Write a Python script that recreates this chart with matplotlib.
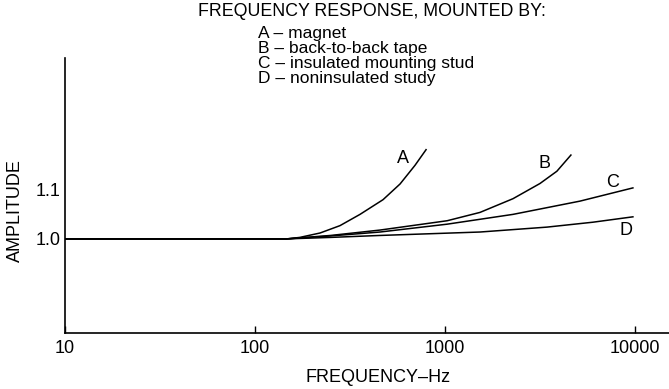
import matplotlib.pyplot as plt

plt.rcParams['font.family'] = ['Liberation Sans', 'DejaVu Sans']

# curve data (frequency in Hz, amplitude)
freq_a = [10, 147, 172, 220, 280, 357, 472, 580, 695, 795]
amp_a = [1.0, 1.0, 1.003, 1.012, 1.027, 1.05, 1.08, 1.112, 1.15, 1.182]

freq_b = [10, 147, 250, 455, 1026, 1528, 2280, 3162, 3880, 4600]
amp_b = [1.0, 1.0, 1.007, 1.018, 1.037, 1.054, 1.082, 1.113, 1.138, 1.171]

freq_c = [10, 147, 250, 455, 1026, 2280, 5130, 9750]
amp_c = [1.0, 1.0, 1.006, 1.014, 1.03, 1.05, 1.077, 1.104]

freq_d = [10, 147, 250, 455, 1528, 3440, 6000, 9750]
amp_d = [1.0, 1.0, 1.003, 1.007, 1.014, 1.024, 1.034, 1.045]

curves = [("A", freq_a, amp_a), ("B", freq_b, amp_b),
          ("C", freq_c, amp_c), ("D", freq_d, amp_d)]
label_pos = {"A": (600, 1.163), "B": (3320, 1.153), "C": (7650, 1.114), "D": (8980, 1.018)}

x_ticks = [10, 100, 1000, 10000]
y_ticks = [1.0, 1.1]

legend_lines = ["A \u2013 magnet", "B \u2013 back-to-back tape",
                "C \u2013 insulated mounting stud", "D \u2013 noninsulated study"]

fs = 13

fig = plt.figure(figsize=(6.69, 3.89), dpi=100)
ax = fig.add_axes([65 / 669, 56 / 389, 1 - 65 / 669, 275 / 389])

for name, f, a in curves:
    ax.plot(f, a, color='black', lw=1.1)
    ax.text(label_pos[name][0], label_pos[name][1], name, fontsize=fs,
            ha='center', va='center')

ax.set_xscale('log')
ax.set_xlim(10, 15100)
ax.set_ylim(0.808, 1.369)

ax.set_xticks(x_ticks)
ax.set_xticklabels([str(t) for t in x_ticks])
ax.minorticks_off()
ax.tick_params(axis='x', direction='in', length=5, width=1, labelsize=fs, pad=5)
ax.set_yticks(y_ticks)
ax.set_yticklabels(["1.0", "1.1"])
ax.tick_params(axis='y', length=0, labelsize=fs, pad=3)

for s in ['top', 'right']:
    ax.spines[s].set_visible(False)
for s in ['left', 'bottom']:
    ax.spines[s].set_linewidth(1.2)

fig.text(378 / 669, 1 - 377 / 389, "FREQUENCY\u2013Hz", fontsize=fs,
         ha='center', va='center')
fig.text(15 / 669, 1 - 211 / 389, "AMPLITUDE", fontsize=fs, rotation=90,
         ha='center', va='center')

fig.text(372 / 669, 1 - 11 / 389, "FREQUENCY RESPONSE, MOUNTED BY:", fontsize=12.8,
         ha='center', va='center')
# legend block as one multi-line text
fig.text(258 / 669, 1 - 56 / 389, "\n".join(legend_lines), fontsize=12.5,
         ha='left', va='center', linespacing=0.98)

fig.savefig("out.png", dpi=100)
